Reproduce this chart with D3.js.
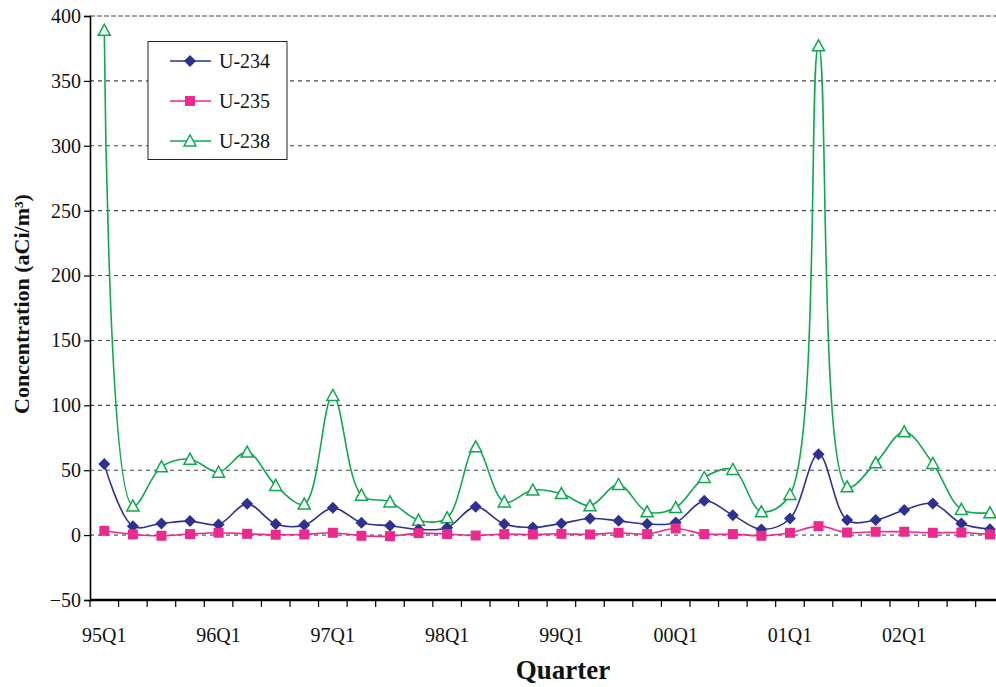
<!DOCTYPE html>
<html><head><meta charset="utf-8">
<script src="https://cdn.jsdelivr.net/npm/d3@7/dist/d3.min.js"></script>
<style>body{margin:0;background:#fff}svg{display:block}</style>
</head><body>
<svg id="c" width="996" height="687"></svg>
<script>
const years = ["95","96","97","98","99","00","01","02"];
const quarters = [];
years.forEach(y => { for (let q = 1; q <= 4; q++) quarters.push(y + "Q" + q); });
const u234 = [54.7,6.9,9,10.8,8.2,24.1,8.5,7.7,21,9.5,7.2,4.4,5.7,21.8,8.5,5.9,9,12.8,11,8.5,9.8,26.4,15.4,4.4,12.8,62.4,11.6,11.6,19.3,24.4,9,4.6];
const u235 = [3.3,0.5,-0.5,0.8,1.8,1,0.3,0.5,1.8,-0.5,-0.8,1.5,0.8,-0.3,0.8,0.5,1,0.5,1.8,0.8,5.1,0.8,0.8,-0.5,1.8,6.9,2,2.6,2.6,1.8,2,0.5];
const u238 = [389,22.5,52.6,58.5,48.5,64,38.3,23.9,107.6,30.8,25.6,11.5,13.3,68,25.6,34.7,32,22.6,39,18,21.3,44.4,50.6,18,31.3,377,37.2,55.7,79.6,55.2,19.8,17.2];
const yTicks = [-50,0,50,100,150,200,250,300,350,400];
const seriesNames = ["U-234","U-235","U-238"];

(function(){
const FONT = "'Liberation Serif', 'Times New Roman', Times, serif";
const svg = d3.select("#c").attr("font-family", FONT);
const mLeft = 90, mTop = 16, mBottom = 600, bandW = 28.57;
const mRight = mLeft + bandW * quarters.length;
const x = d3.scaleBand().domain(quarters).range([mLeft, mRight]);
const y = d3.scaleLinear().domain([-50, 400]).range([mBottom, mTop]);
const cx = d => x(d) + x.bandwidth() / 2;

// gridlines
svg.append("g").selectAll("line").data(yTicks.filter(t => t > -50)).join("line")
  .attr("x1", mLeft).attr("x2", 996).attr("y1", d => y(d)).attr("y2", d => y(d))
  .attr("stroke", d => d === 0 ? "#888" : "#444")
  .attr("stroke-width", d => d === 0 ? 1.6 : 1.1)
  .attr("stroke-dasharray", d => d === 400 ? "5,2" : "4,4");

// y axis
const ya = svg.append("g").attr("transform", `translate(${mLeft},0)`)
  .call(d3.axisLeft(y).tickValues(yTicks).tickSize(6).tickPadding(3));
ya.attr("font-family", FONT).attr("font-size", 20);
ya.select(".domain").attr("stroke", "#000").attr("stroke-width", 1.6);
ya.selectAll(".tick line").attr("stroke", "#000").attr("stroke-width", 1.2);
ya.selectAll(".tick text").attr("fill", "#111").attr("font-family", FONT).attr("font-size", 20);

// x axis
const xa = svg.append("g").attr("transform", `translate(0,${mBottom})`);
const boundaries = d3.range(quarters.length + 1).map(i => mLeft + i * bandW);
xa.append("line").attr("x1", mLeft).attr("x2", 996).attr("y1", 0).attr("y2", 0)
  .attr("stroke", "#000").attr("stroke-width", 2.6);
xa.selectAll("line.t").data(boundaries).join("line").attr("class", "t")
  .attr("x1", d => d).attr("x2", d => d).attr("y1", 0).attr("y2", 7)
  .attr("stroke", "#000").attr("stroke-width", 1.2);
xa.selectAll("text").data(quarters.filter(q => q.endsWith("Q1"))).join("text")
  .attr("x", d => cx(d)).attr("y", 42).attr("text-anchor", "middle")
  .attr("font-family", FONT).attr("font-size", 20).attr("fill", "#111").text(d => d);

// axis titles
svg.append("text").attr("transform", "translate(29,304) rotate(-90)")
  .attr("text-anchor", "middle").attr("font-size", 22).attr("font-weight", "bold")
  .attr("font-family", FONT).attr("fill", "#111").text("Concentration (aCi/m³)");
svg.append("text").attr("x", 563).attr("y", 679).attr("text-anchor", "middle")
  .attr("font-family", FONT).attr("font-size", 27).attr("font-weight", "bold").attr("fill", "#111").text("Quarter");

const colors = {"U-234": "#2e3192", "U-235": "#ec2a8e", "U-238": "#0fa84f"};
const line = d3.line().x((d, i) => cx(quarters[i])).y(d => y(d)).curve(d3.curveCatmullRom.alpha(0.5));

svg.append("clipPath").attr("id", "cl").append("rect")
  .attr("x", mLeft).attr("y", 0).attr("width", 996 - mLeft).attr("height", mBottom);
const plot = svg.append("g").attr("clip-path", "url(#cl)");

function marker(g, name, px, py) {
  const c = colors[name];
  if (name === "U-234") {
    g.append("path").attr("d", `M${px},${py-6}L${px+6},${py}L${px},${py+6}L${px-6},${py}Z`).attr("fill", c);
  } else if (name === "U-235") {
    g.append("rect").attr("x", px-5).attr("y", py-5).attr("width", 10).attr("height", 10).attr("fill", c);
  } else {
    g.append("path").attr("d", `M${px},${py-6}L${px+6},${py+5}L${px-6},${py+5}Z`)
      .attr("fill", "#fff").attr("stroke", c).attr("stroke-width", 1.5);
  }
}

const data = {"U-238": u238, "U-234": u234, "U-235": u235};
["U-238", "U-234", "U-235"].forEach(name => {
  plot.append("path").datum(data[name]).attr("d", line).attr("fill", "none")
    .attr("stroke", colors[name]).attr("stroke-width", 1.6);
});
["U-238", "U-234", "U-235"].forEach(name => {
  const g = plot.append("g");
  data[name].forEach((v, i) => marker(g, name, cx(quarters[i]), y(v)));
});

// legend
const lg = svg.append("g");
lg.append("rect").attr("x", 148).attr("y", 41.5).attr("width", 139).attr("height", 118)
  .attr("fill", "#fff").attr("stroke", "#222").attr("stroke-width", 1);
seriesNames.forEach((name, i) => {
  const ly = 61 + i * 40;
  lg.append("line").attr("x1", 170).attr("x2", 211).attr("y1", ly).attr("y2", ly)
    .attr("stroke", colors[name]).attr("stroke-width", 1.6);
  marker(lg, name, 190, ly);
  lg.append("text").attr("x", 219).attr("y", ly + 7).attr("font-family", FONT)
    .attr("font-size", 20).attr("fill", "#111").text(name);
});
})();
</script>
</body></html>
